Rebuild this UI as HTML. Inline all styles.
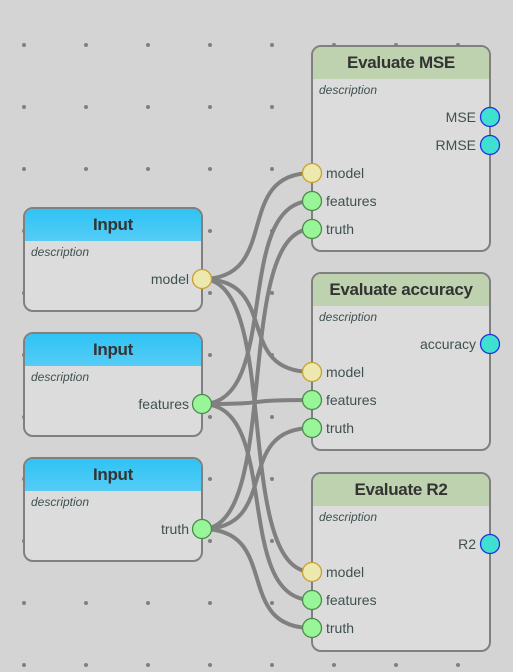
<!DOCTYPE html>
<html><head><style>
body{margin:0;width:513px;height:672px;background:#d4d4d4;position:relative;overflow:hidden;font-family:"Liberation Sans",sans-serif}
.node{position:absolute;width:176px;background:#dcdcdc;border:2px solid #808080;border-radius:10px;box-sizing:content-box;overflow:hidden}
.hd{height:32px;line-height:32px;text-align:center;font-weight:bold;font-size:17px;color:#333;letter-spacing:-0.3px}
.in .hd{background:linear-gradient(#2fc3f5,#55ccf5)}
.ev .hd{background:#bfd2b0}
.desc{font-style:italic;font-size:12px;color:#405050;padding:4px 6px}
.lbl{position:absolute;font-size:14px;color:#405050}
svg{position:absolute;left:0;top:0}
</style></head><body>
<svg width="513" height="672">
<g fill="#808080" id="dots"></g>
</svg>
<div class="node in" style="left:23px;top:207px;height:101px"><div class="hd">Input</div><div class="desc">description</div></div>
<div class="node in" style="left:23px;top:332px;height:101px"><div class="hd">Input</div><div class="desc">description</div></div>
<div class="node in" style="left:23px;top:457px;height:101px"><div class="hd">Input</div><div class="desc">description</div></div>
<div class="node ev" style="left:311px;top:45px;height:203px"><div class="hd">Evaluate MSE</div><div class="desc">description</div></div>
<div class="node ev" style="left:311px;top:272px;height:175px"><div class="hd">Evaluate accuracy</div><div class="desc">description</div></div>
<div class="node ev" style="left:311px;top:472px;height:176px"><div class="hd">Evaluate R2</div><div class="desc">description</div></div>
<div class="lbl" style="right:324px;top:271px">model</div>
<div class="lbl" style="right:324px;top:396px">features</div>
<div class="lbl" style="right:324px;top:521px">truth</div>
<div class="lbl" style="right:37px;top:109px">MSE</div>
<div class="lbl" style="right:37px;top:137px">RMSE</div>
<div class="lbl" style="right:37px;top:336px">accuracy</div>
<div class="lbl" style="right:37px;top:536px">R2</div>
<div class="lbl" style="left:326px;top:165px">model</div>
<div class="lbl" style="left:326px;top:193px">features</div>
<div class="lbl" style="left:326px;top:221px">truth</div>
<div class="lbl" style="left:326px;top:364px">model</div>
<div class="lbl" style="left:326px;top:392px">features</div>
<div class="lbl" style="left:326px;top:420px">truth</div>
<div class="lbl" style="left:326px;top:564px">model</div>
<div class="lbl" style="left:326px;top:592px">features</div>
<div class="lbl" style="left:326px;top:620px">truth</div>
<svg width="513" height="672">
<g fill="none" stroke="#808080" stroke-width="4">
<path d="M202 279C282 279 232 173 312 173"/><path d="M202 279C282 279 232 372 312 372"/><path d="M202 279C282 279 232 572 312 572"/>
<path d="M202 404C282 404 232 201 312 201"/><path d="M202 404C282 404 232 400 312 400"/><path d="M202 404C282 404 232 600 312 600"/>
<path d="M202 529C282 529 232 229 312 229"/><path d="M202 529C282 529 232 428 312 428"/><path d="M202 529C282 529 232 628 312 628"/>
</g>
<g stroke-width="1.3">
<circle cx="202" cy="279" r="9.5" fill="#ede8ae" stroke="#c8a030"/>
<circle cx="202" cy="404" r="9.5" fill="#98f598" stroke="#4a8a4a"/>
<circle cx="202" cy="529" r="9.5" fill="#98f598" stroke="#4a8a4a"/>
<circle cx="312" cy="173" r="9.5" fill="#ede8ae" stroke="#c8a030"/>
<circle cx="312" cy="201" r="9.5" fill="#98f598" stroke="#4a8a4a"/>
<circle cx="312" cy="229" r="9.5" fill="#98f598" stroke="#4a8a4a"/>
<circle cx="312" cy="372" r="9.5" fill="#ede8ae" stroke="#c8a030"/>
<circle cx="312" cy="400" r="9.5" fill="#98f598" stroke="#4a8a4a"/>
<circle cx="312" cy="428" r="9.5" fill="#98f598" stroke="#4a8a4a"/>
<circle cx="312" cy="572" r="9.5" fill="#ede8ae" stroke="#c8a030"/>
<circle cx="312" cy="600" r="9.5" fill="#98f598" stroke="#4a8a4a"/>
<circle cx="312" cy="628" r="9.5" fill="#98f598" stroke="#4a8a4a"/>
<circle cx="490" cy="117" r="9.5" fill="#40e0d0" stroke="#2030e0"/>
<circle cx="490" cy="145" r="9.5" fill="#40e0d0" stroke="#2030e0"/>
<circle cx="490" cy="344" r="9.5" fill="#40e0d0" stroke="#2030e0"/>
<circle cx="490" cy="544" r="9.5" fill="#40e0d0" stroke="#2030e0"/>
</g>
</svg>
<script>
var g=document.getElementById('dots'),s='';
for(var x=24;x<513;x+=62)for(var y=45;y<672;y+=62)s+='<circle cx="'+x+'" cy="'+y+'" r="2"/>';
g.innerHTML=s;
</script>
</body></html>
